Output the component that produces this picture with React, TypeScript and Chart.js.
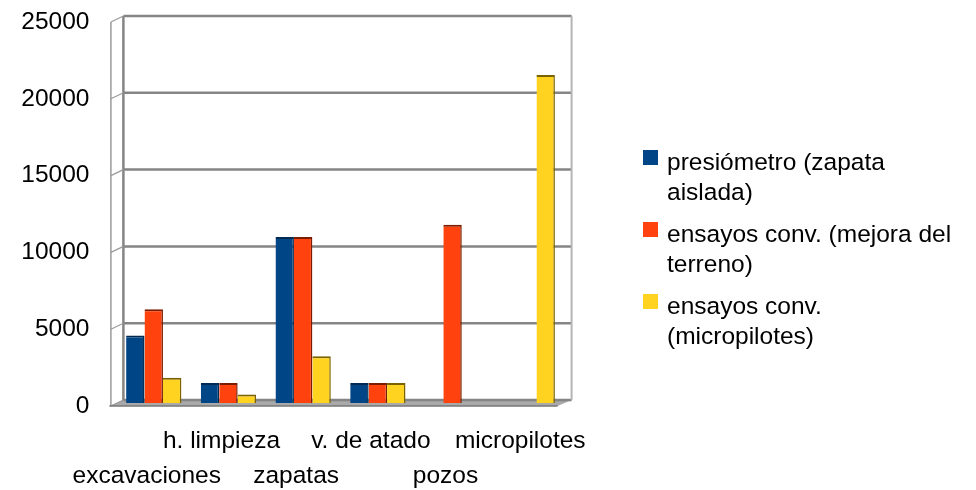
import React, { useEffect, useRef } from "react";
import { Chart, registerables } from "chart.js";

Chart.register(...registerables);

// ---- data ----
const categories = ["excavaciones", "h. limpieza", "zapatas", "v. de atado", "pozos", "micropilotes"];
const seriesNames = [
  "presiómetro (zapata aislada)",
  "ensayos conv. (mejora del terreno)",
  "ensayos conv. (micropilotes)",
];
const presiometro = [4400, 1300, 10800, 1300, null, null];
const mejoraTerreno = [6100, 1300, 10800, 1300, 11600, null];
const ensayosMicropilotes = [1650, 550, 3050, 1300, null, 21350];
const yTickValues = [0, 5000, 10000, 15000, 20000, 25000];

// ---- style ----
const seriesColors = ["#004586", "#ff420e", "#ffd320"];
const seriesEdges = ["#002a52", "#7a1d00", "#7a6200"];
const FONT = '"Liberation Sans", Arial, sans-serif';
const DX = 14;
const DY = -6;

const wallPlugin = {
  id: "wall3d",
  beforeDatasetsDraw(chart: any) {
    const { ctx, chartArea: a, scales } = chart;
    const y = scales.y;
    const line = (x1: number, y1: number, x2: number, y2: number) => {
      ctx.beginPath();
      ctx.moveTo(x1, y1);
      ctx.lineTo(x2, y2);
      ctx.stroke();
    };
    ctx.save();
    // floor
    ctx.fillStyle = "#a9a9a9";
    ctx.beginPath();
    ctx.moveTo(a.left, a.bottom);
    ctx.lineTo(a.left + DX, a.bottom + DY);
    ctx.lineTo(a.right + DX, a.bottom + DY);
    ctx.lineTo(a.right, a.bottom);
    ctx.closePath();
    ctx.fill();
    // back wall grid lines
    ctx.strokeStyle = "#858585";
    ctx.lineWidth = 2.5;
    y.ticks.forEach((t: any) => {
      const py = y.getPixelForValue(t.value) + DY;
      line(a.left + DX, py, a.right + DX, py);
    });
    // back wall verticals
    line(a.left + DX, a.top + DY, a.left + DX, a.bottom + DY);
    ctx.strokeStyle = "#b5b5b5";
    ctx.lineWidth = 2;
    line(a.right + DX, a.top + DY, a.right + DX, a.bottom + DY);
    // left wall front edge
    ctx.strokeStyle = "#9a9a9a";
    ctx.lineWidth = 1.5;
    line(a.left + 1.5, a.top, a.left + 1.5, a.bottom);
    // connectors at ticks
    ctx.lineWidth = 1.2;
    y.ticks.forEach((t: any) => {
      const py = y.getPixelForValue(t.value);
      line(a.left + 1.5, py, a.left + DX, py + DY);
    });
    // front floor edge
    ctx.strokeStyle = "#777777";
    ctx.lineWidth = 1.5;
    line(a.left, a.bottom, a.right, a.bottom);
    ctx.restore();
    // bars sit at mid depth
    ctx.save();
    ctx.translate(DX / 2, DY / 2);
  },
  afterDatasetsDraw(chart: any) {
    chart.ctx.restore();
  },
};

export default function App() {
  const ref = useRef<HTMLCanvasElement | null>(null);

  useEffect(() => {
    if (!ref.current) return;
    const seriesData = [presiometro, mejoraTerreno, ensayosMicropilotes];
    const chart = new Chart(ref.current, {
      type: "bar",
      data: {
        labels: categories.map((c, i) => (i % 2 === 0 ? ["", c] : [c, ""])),
        datasets: seriesData.map((d, i) => ({
          label: seriesNames[i],
          data: d,
          backgroundColor: seriesColors[i],
          borderColor: seriesEdges[i],
          borderWidth: { top: 2, right: 1.5, left: 0, bottom: 0 },
          barPercentage: 1,
          categoryPercentage: 0.74,
        })),
      },
      options: {
        responsive: false,
        animation: false,
        events: [],
        layout: { padding: { top: 22, right: 418.4, left: 0, bottom: 0 } },
        plugins: { legend: { display: false }, tooltip: { enabled: false } },
        scales: {
          x: {
            grid: { display: false, drawTicks: false, tickLength: 0 },
            border: { display: false },
            ticks: {
              autoSkip: false,
              maxRotation: 0,
              minRotation: 0,
              padding: 17.5,
              color: "#000",
              font: { family: FONT, size: 24.5, lineHeight: "35px" },
            },
            afterFit: (s: any) => {
              s.height = 84;
            },
          },
          y: {
            min: 0,
            max: 25000,
            grid: { display: false, drawTicks: true, tickLength: 20 },
            border: { display: false },
            afterBuildTicks: (s: any) => {
              s.ticks = yTickValues.map((v) => ({ value: v }));
            },
            ticks: {
              padding: 0,
              color: "#000",
              font: { family: FONT, size: 24.5 },
              callback: (v: any) => String(v),
            },
            afterFit: (s: any) => {
              s.width = 109.4;
            },
          },
        },
      },
      plugins: [wallPlugin],
    });
    return () => chart.destroy();
  }, []);

  return (
    <div style={{ position: "absolute", left: 0, top: 0, width: 976, height: 490, background: "#fff" }}>
      <canvas ref={ref} width={976} height={490} style={{ position: "absolute", left: 0, top: 0 }} />
      <div
        style={{
          position: "absolute",
          left: 643,
          top: 147,
          width: 330,
          fontFamily: FONT,
          fontSize: 24.5,
          lineHeight: "30px",
          color: "#000",
        }}
      >
        {seriesNames.map((name, i) => (
          <div key={name} style={{ display: "flex", alignItems: "flex-start", marginBottom: 12 }}>
            <span
              style={{
                display: "inline-block",
                width: 15,
                height: 15,
                marginTop: 3,
                background: seriesColors[i],
                flex: "0 0 15px",
              }}
            />
            <span style={{ marginLeft: 9, width: 300 }}>{name}</span>
          </div>
        ))}
      </div>
    </div>
  );
}
